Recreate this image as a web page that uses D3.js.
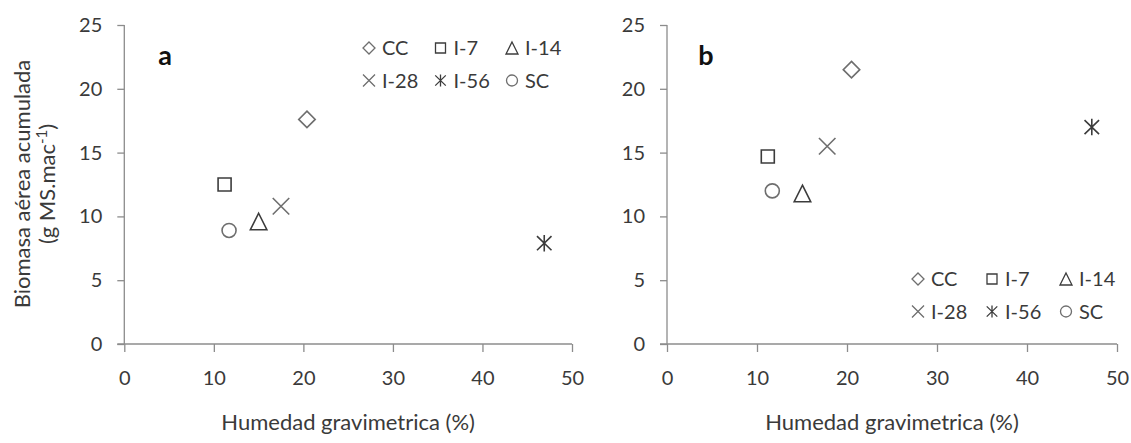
<!DOCTYPE html>
<html>
  <head>
    <meta charset="utf-8">
    <title>Biomasa vs humedad</title>
    <script type="text/javascript" src="https://d3js.org/d3.v7.min.js"></script>
    <style type="text/css">
      body { margin: 0; background: #fff; }
      svg text { font-family: Lato, "Open Sans", sans-serif; fill: #3a3a3a; }
      .axis path, .axis line { stroke: #8c8c8c; stroke-width: 1.3; }
      .axis text { font-size: 20px; }
    </style>
  </head>
  <body>
    <script type="text/javascript">
    // Data
    var series = ["CC", "I-7", "I-14", "I-28", "I-56", "SC"];
    var humedadA = [20.4, 11.2, 15.0, 17.5, 46.9, 11.7];
    var biomasaA = [17.6, 12.5, 9.6, 10.8, 7.9, 8.9];
    var humedadB = [20.5, 11.2, 15.05, 17.8, 47.2, 11.7];
    var biomasaB = [21.5, 14.7, 11.8, 15.5, 17.0, 12.0];
    var xTicks = [0, 10, 20, 30, 40, 50];
    var yTicks = [0, 5, 10, 15, 20, 25];

    var widthSVG = 1131;
    var heightSVG = 443;

    var svg = d3.select("body")
                .append("svg")
                .attr("width", widthSVG)
                .attr("height", heightSVG);

    // marker shapes, s = full size
    var shapes = {
      "CC": function(s){ var h = s / 2;
        return "M0," + (-h) + "L" + h + ",0L0," + h + "L" + (-h) + ",0Z"; },
      "I-7": function(s){ var h = s / 2 - 1;
        return "M" + (-h) + "," + (-h) + "H" + h + "V" + h + "H" + (-h) + "Z"; },
      "I-14": function(s){ var h = s / 2;
        return "M0," + (-h) + "L" + h + "," + h + "H" + (-h) + "Z"; },
      "I-28": function(s){ var h = s / 2;
        return "M" + (-h) + "," + (-h) + "L" + h + "," + h + "M" + h + "," + (-h) + "L" + (-h) + "," + h; },
      "I-56": function(s){ var h = s / 2, w = s * 0.44;
        return "M" + (-w) + "," + (-h * 0.85) + "L" + w + "," + (h * 0.85) +
               "M" + w + "," + (-h * 0.85) + "L" + (-w) + "," + (h * 0.85) +
               "M0," + (-h) + "V" + h; },
      "SC": function(s){ var r = s / 2 - 0.5;
        return "M" + r + ",0A" + r + "," + r + " 0 1,1 " + (-r) + ",0A" + r + "," + r + " 0 1,1 " + r + ",0Z"; }
    };
    var shapeColor = { "CC": "#6e6e6e", "I-7": "#3c3c3c", "I-14": "#3c3c3c",
                       "I-28": "#6e6e6e", "I-56": "#3c3c3c", "SC": "#6e6e6e" };

    var panels = [
      { key: "a", hum: humedadA, bio: biomasaA, x0: 124.3, x1: 572, legX: 369, legY: 48, colW: 71.5, tag: [165, 56] },
      { key: "b", hum: humedadB, bio: biomasaB, x0: 667, x1: 1117, legX: 918, legY: 279, colW: 74, tag: [706, 56] }
    ];

    panels.forEach(function(p){
      var xScale = d3.scaleLinear().domain([0, 50]).range([p.x0, p.x1]);
      var yScale = d3.scaleLinear().domain([0, 25]).range([344, 25]);

      var g = svg.append("g");

      var yAxis = d3.axisLeft(yScale).tickValues(yTicks).tickSize(7).tickSizeOuter(0).tickPadding(15);
      g.append("g")
       .attr("class", "axis")
       .attr("transform", "translate(" + p.x0 + ",0)")
       .call(yAxis)
       .call(function(a){ a.select(".domain").remove(); })
       .append("line")
       .attr("x1", 0).attr("x2", 0).attr("y1", yScale(25)).attr("y2", yScale(0))
       .attr("stroke", "#8c8c8c").attr("stroke-width", 1.3);

      var xAxis = d3.axisBottom(xScale).tickValues(xTicks).tickSize(8).tickSizeOuter(0).tickPadding(19);
      g.append("g")
       .attr("class", "axis")
       .attr("transform", "translate(0,344)")
       .call(xAxis)
       .call(function(a){ a.select(".domain").attr("d", "M" + (p.x0 - 7) + ",0H" + p.x1); });

      g.selectAll(".axis text").attr("fill", "#3a3a3a");

      // x title
      g.append("text")
       .attr("x", (p.x0 + p.x1) / 2)
       .attr("y", 430)
       .attr("text-anchor", "middle")
       .style("font-size", "22px")
       .text("Humedad gravimetrica (%)");

      // panel letter
      g.append("text")
       .attr("x", p.tag[0])
       .attr("y", p.tag[1] + 9)
       .attr("text-anchor", "middle")
       .style("font-size", "27px")
       .style("font-weight", "bold")
       .style("fill", "#111")
       .text(p.key);

      // points
      g.selectAll("path.pt")
       .data(series)
       .enter()
       .append("path")
       .attr("class", "pt")
       .attr("transform", function(d, i){
         return "translate(" + xScale(p.hum[i]) + "," + yScale(p.bio[i]) + ")";
       })
       .attr("d", function(d){ return shapes[d](d === "I-7" || d === "SC" ? 15 : 16.5); })
       .attr("fill", "none")
       .attr("stroke", function(d){ return shapeColor[d]; })
       .attr("stroke-width", 1.6);

      // legend, 3 columns x 2 rows
      var leg = g.selectAll("g.leg")
                 .data(series)
                 .enter()
                 .append("g")
                 .attr("class", "leg")
                 .attr("transform", function(d, i){
                   var col = i % 3, row = Math.floor(i / 3);
                   return "translate(" + (p.legX + col * p.colW) + "," + (p.legY + row * 32.5) + ")";
                 });
      leg.append("path")
         .attr("d", function(d){ return shapes[d](12); })
         .attr("fill", "none")
         .attr("stroke", function(d){ return shapeColor[d]; })
         .attr("stroke-width", 1.3);
      leg.append("text")
         .attr("x", 13)
         .attr("y", 7)
         .style("font-size", "20px")
         .text(function(d){ return d; });
    });

    // y title, shared on the left
    var yt = svg.append("g").attr("transform", "translate(30,184) rotate(-90)");
    yt.append("text")
      .attr("x", 0).attr("y", 0)
      .attr("text-anchor", "middle")
      .style("font-size", "22px")
      .text("Biomasa aérea acumulada");
    var t2 = yt.append("text")
      .attr("x", 0).attr("y", 25)
      .attr("text-anchor", "middle")
      .style("font-size", "22px");
    t2.append("tspan").text("(g MS.mac");
    t2.append("tspan").attr("dy", -8).style("font-size", "15px").text("-1");
    t2.append("tspan").attr("dy", 8).text(")");
    </script>
  </body>
</html>
